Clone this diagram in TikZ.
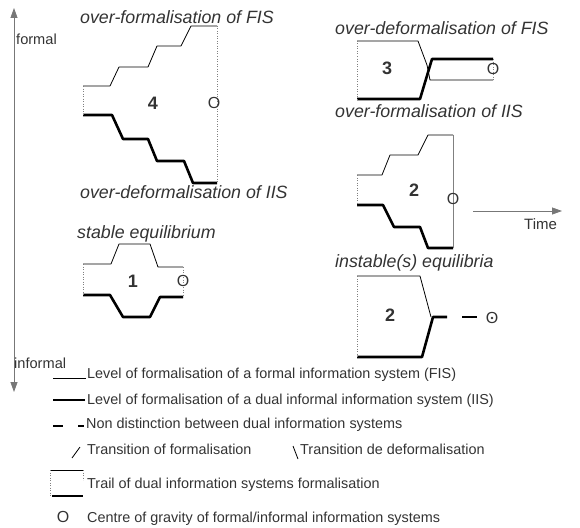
\documentclass[tikz,border=0pt]{standalone}
\usepackage{fontspec}
\setmainfont{Liberation Sans}
\usetikzlibrary{arrows.meta}
\definecolor{txtgray}{HTML}{333333}
\definecolor{axisgray}{HTML}{777777}

\begin{document}
\begin{tikzpicture}[
  x=1pt, y=-1pt,
  fisline/.style={draw=black, line width=0.8pt, line join=round},
  iisline/.style={draw=black, line width=2.6pt, line join=round},
  trail/.style={draw=gray, line width=0.5pt, dotted},
  axisline/.style={draw=axisgray, line width=0.8pt},
  title/.style={anchor=west, inner sep=0pt, text=txtgray, font=\fontsize{17.8}{20}\selectfont\itshape},
  number/.style={inner sep=0pt, text=txtgray, font=\fontsize{18}{20}\selectfont\bfseries},
  centre/.style={inner sep=0pt, text=txtgray, font=\fontsize{16}{18}\selectfont},
  axislabel/.style={anchor=base west, inner sep=0pt, text=txtgray, font=\fontsize{14.6}{17}\selectfont},
  legend/.style={anchor=base west, inner sep=0pt, text=txtgray, font=\fontsize{14.4}{17}\selectfont}
]
\useasboundingbox (0,0) rectangle (580,527);

% formal / informal axis
\coordinate (ftop) at (14,8);
\coordinate (fbot) at (14,392);
\draw[axisline, {Triangle[length=10pt,width=7pt]}-{Triangle[length=10pt,width=7pt]}] (ftop) -- (fbot);
\node[axislabel] (formal) at (16,45) {formal};
\node[axislabel] (informal) at (14,368) {informal};

% case 4
\node[title] (t4a) at (80,17) {over-formalisation of FIS};
\draw[fisline] (83,86) -- (110,86) -- (119,67) -- (148,67) -- (157,46) -- (181,46) -- (191,26) -- (217,26);
\draw[iisline] (83,115) -- (112,115) -- (123,139) -- (148,139) -- (157,161) -- (184,161) -- (193,183) -- (217,183);
\draw[trail] (83,86) -- (83,115);
\draw[trail] (217,26) -- (217,183);
\node[number] (n4) at (153,103) {4};
\node[centre] (c4) at (214,103) {O};
\node[title] (t4b) at (80,192) {over-deformalisation of IIS};

% case 1
\node[title] (t1) at (77,234) {stable equilibrium};
\draw[fisline] (83,264) -- (111,264) -- (119,244) -- (150,244) -- (158,267) -- (183,267);
\draw[iisline] (83,295) -- (110,295) -- (123,317) -- (150,317) -- (160,297) -- (183,297);
\draw[trail] (83,264) -- (83,295);
\draw[trail] (183,267) -- (183,297);
\node[number] (n1) at (133,281) {1};
\node[centre] (c1) at (183,281) {O};

% case 3
\node[title] (t3a) at (335,28) {over-deformalisation of FIS};
\draw[fisline] (357,41) -- (418,41) -- (427,65) -- (430,80) -- (493,80);
\draw[iisline] (357,99) -- (420,99) -- (432,59) -- (493,59);
\draw[trail] (357,41) -- (357,99);
\draw[trail] (493,59) -- (493,80);
\node[number] (n3) at (387,68) {3};
\node[centre] (c3) at (493,69) {O};
\node[title] (t3b) at (335,111) {over-formalisation of IIS};

% case 2
\draw[fisline] (357,175) -- (382,175) -- (390,155) -- (418,155) -- (428,135) -- (453,135);
\draw[iisline] (357,205) -- (383,205) -- (394,227) -- (420,227) -- (428,248) -- (453,248);
\draw[trail] (357,175) -- (357,205);
\draw[draw=gray, line width=0.6pt] (453,135) -- (453,248);
\node[number] (n2) at (414,190) {2};
\node[centre] (c2) at (453,199) {O};

% time axis
\coordinate (tstart) at (473,211);
\coordinate (tend) at (562,211);
\draw[axisline, -{Triangle[length=10pt,width=7pt]}] (tstart) -- (tend);
\node[anchor=west, inner sep=0pt, text=txtgray, font=\fontsize{15}{18}\selectfont] (time) at (524,224) {Time};

% instable case
\node[title] (t5) at (335,263) {instable(s) equilibria};
\draw[fisline] (357,276) -- (420,276) -- (431,317);
\draw[iisline] (357,357) -- (422,357) -- (433,317) -- (447,317);
\draw[iisline] (462,317) -- (477,317);
\draw[trail] (357,276) -- (357,357);
\node[number] (n5) at (390,315) {2};
\node[centre] (c5) at (492,318) {O};
\fill[txtgray] (c5.center) circle (1.3);

% legend
\draw[fisline] (53,378) -- (86,378);
\node[legend] (l1) at (87,378) {Level of formalisation of a formal information system (FIS)};
\draw[iisline] (53,400) -- (85,400);
\node[legend] (l2) at (87,404) {Level of formalisation of a dual informal information system (IIS)};
\draw[iisline] (53,426) -- (63,426);
\draw[iisline] (78,426) -- (84,426);
\node[legend] (l3) at (86,428) {Non distinction between dual information systems};
\draw[fisline] (72,458) -- (80,447);
\node[legend] (l4) at (87,454) {Transition of formalisation};
\draw[fisline] (293,446) -- (298,459);
\node[legend] (l5) at (300,454) {Transition de deformalisation};
\draw[fisline] (50,470) -- (83,470);
\draw[trail] (50,470) -- (50,496);
\draw[trail] (83,470) -- (83,480);
\draw[iisline] (52,496) -- (83,496);
\node[legend] (l6) at (87,488) {Trail of dual information systems formalisation};
\node[centre] (lc) at (63,517) {O};
\node[legend] (l7) at (87,522) {Centre of gravity of formal/informal information systems};

\end{tikzpicture}
\end{document}
